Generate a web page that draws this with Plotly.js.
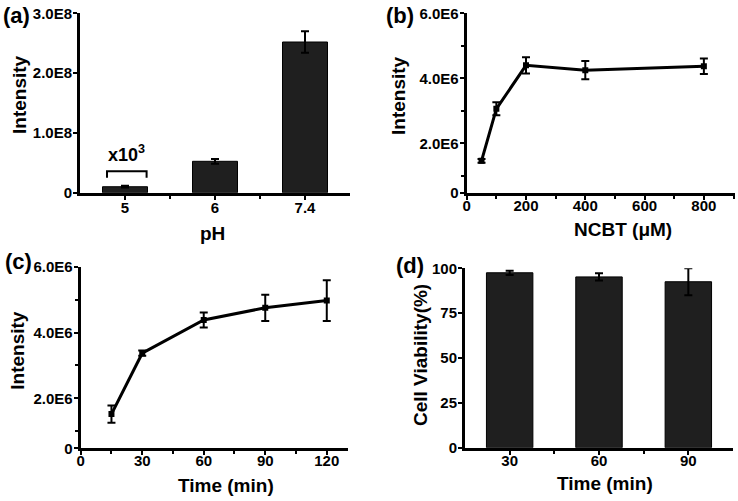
<!DOCTYPE html>
<html>
<head>
<meta charset="utf-8">
<script src="https://cdn.plot.ly/plotly-3.0.1.min.js"></script>
<style>html,body{margin:0;padding:0;background:#fff;}#chart{width:738px;height:501px;}</style>
</head>
<body>
<div id="chart"></div>
<script>
// ---- data ----
const phLabels = ['5', '6', '7.4'];
const phIntensity = [1.0e7, 5.25e7, 2.52e8];
const phError = [0.15e7, 0.4e7, 1.8e7];

const ncbtConc = [50, 100, 200, 400, 800];
const ncbtIntensity = [1.46e6, 3.06e6, 4.40e6, 4.25e6, 4.37e6];
const ncbtError = [0.06e6, 0.2e6, 0.25e6, 0.28e6, 0.24e6];

const timeMin = [15, 30, 60, 90, 120];
const timeIntensity = [1.52e6, 3.37e6, 4.38e6, 4.75e6, 4.97e6];
const timeError = [0.26e6, 0.08e6, 0.23e6, 0.4e6, 0.62e6];

const viabLabels = ['30', '60', '90'];
const viability = [97.5, 95.2, 92.5];
const viabError = [1.2, 2.0, 7.5];

const phTickVals = [0, 1e8, 2e8, 3e8];
const phTickText = ['0', '1.0E8', '2.0E8', '3.0E8'];
const intTickVals = [2e6, 4e6, 6e6];
const intTickText = ['2.0E6', '4.0E6', '6.0E6'];
const ncbtTickVals = [0, 200, 400, 600, 800];
const timeTickVals = [0, 30, 60, 90, 120];
const viabTickVals = [0, 25, 50, 75, 100];

// ---- helpers ----
const W = 738, H = 501;
const px = v => v / W;
const py = v => 1 - v / H;
const FONT = 'Liberation Sans, Arial, Helvetica, sans-serif';
const idx = a => a.map((_, i) => i);
const bold = a => a.map(t => '<b>' + t + '</b>');

const errStyle = arr => ({type: 'data', array: arr, visible: true, color: '#000', thickness: 2, width: 4});

const traces = [
  {type: 'bar', x: idx(phLabels), y: phIntensity, error_y: errStyle(phError), width: 0.5,
   marker: {color: '#1f1f1f', line: {color: '#000', width: 1}}, xaxis: 'x', yaxis: 'y'},
  {type: 'scatter', mode: 'lines+markers', x: ncbtConc, y: ncbtIntensity, error_y: errStyle(ncbtError),
   line: {color: '#000', width: 3}, marker: {symbol: 'square', size: 6, color: '#000'}, xaxis: 'x2', yaxis: 'y2'},
  {type: 'scatter', mode: 'lines+markers', x: timeMin, y: timeIntensity, error_y: errStyle(timeError),
   line: {color: '#000', width: 3}, marker: {symbol: 'square', size: 6, color: '#000'}, xaxis: 'x3', yaxis: 'y3'},
  {type: 'bar', x: idx(viabLabels), y: viability, error_y: errStyle(viabError), width: 0.52,
   marker: {color: '#1f1f1f', line: {color: '#000', width: 1}}, xaxis: 'x4', yaxis: 'y4'}
];

const tickFont = {family: FONT, size: 15, color: '#000'};
const common = {
  showline: true, linecolor: '#000', linewidth: 3, mirror: false,
  ticks: 'outside', ticklen: 4, tickwidth: 2, tickcolor: '#000',
  showgrid: false, zeroline: false, fixedrange: true,
  tickfont: tickFont, tickmode: 'array'
};
const commonX = Object.assign({}, common, {ticklabelstandoff: -7});
const commonY = Object.assign({}, common, {ticklabelstandoff: -2});
const minorStyle = {ticks: 'outside', ticklen: 3, tickwidth: 2, tickcolor: '#000'};

const yBase = 0.48e6; // where the drawn x-axis crosses the intensity axes in (b) and (c)

const layout = {
  width: W, height: H, margin: {l: 0, r: 0, t: 0, b: 0},
  paper_bgcolor: '#fff', plot_bgcolor: '#fff', showlegend: false,
  font: {family: FONT, color: '#000', size: 15},
  bargap: 0,
  xaxis: Object.assign({}, commonX, {domain: [px(80), px(350)], anchor: 'y', range: [-0.5, 2.5],
    tickvals: idx(phLabels), ticktext: bold(phLabels), ticklabelstandoff: -5,
    minor: Object.assign({}, minorStyle, {tickmode: 'array', tickvals: [0.5, 1.5]})}),
  yaxis: Object.assign({}, commonY, {domain: [py(192.7), py(13.3)], anchor: 'x', range: [0, 3e8],
    tickvals: phTickVals, ticktext: bold(phTickText)}),
  xaxis2: Object.assign({}, commonX, {domain: [px(466.7), px(735)], anchor: 'y2', range: [0, 905],
    tickvals: ncbtTickVals, ticktext: bold(ncbtTickVals),
    minor: Object.assign({}, minorStyle, {tickmode: 'linear', tick0: 0, dtick: 100})}),
  yaxis2: Object.assign({}, commonY, {domain: [py(192.7), py(13.3)], anchor: 'x2', range: [yBase, 6e6],
    tickvals: [yBase].concat(intTickVals), ticktext: bold(['0'].concat(intTickText)),
    minor: Object.assign({}, minorStyle, {tickmode: 'array', tickvals: [1e6, 3e6, 5e6]})}),
  xaxis3: Object.assign({}, commonX, {domain: [px(80.7), px(348.3)], anchor: 'y3', range: [0, 130.5],
    tickvals: timeTickVals, ticktext: bold(timeTickVals),
    minor: Object.assign({}, minorStyle, {tickmode: 'linear', tick0: 0, dtick: 15})}),
  yaxis3: Object.assign({}, commonY, {domain: [py(448.3), py(266.7)], anchor: 'x3', range: [yBase, 6e6],
    tickvals: [yBase].concat(intTickVals), ticktext: bold(['0'].concat(intTickText)),
    minor: Object.assign({}, minorStyle, {tickmode: 'array', tickvals: [1e6, 3e6, 5e6]})}),
  xaxis4: Object.assign({}, commonX, {domain: [px(465), px(733)], anchor: 'y4', range: [-0.5, 2.5],
    tickvals: idx(viabLabels), ticktext: bold(viabLabels),
    minor: Object.assign({}, minorStyle, {tickmode: 'array', tickvals: [0.5, 1.5]})}),
  yaxis4: Object.assign({}, commonY, {domain: [py(447.7), py(268.3)], anchor: 'x4', range: [0, 100],
    tickvals: viabTickVals, ticktext: bold(viabTickVals)}),
  shapes: [
    {type: 'path', xref: 'x', yref: 'y', path: 'M -0.2,25000000 L -0.2,36000000 L 0.24,36000000 L 0.24,25000000',
     line: {color: '#000', width: 2}}
  ],
  annotations: []
};

function ann(text, x, y, size, angle) {
  layout.annotations.push({text: '<b>' + text + '</b>', xref: 'paper', yref: 'paper', x: px(x), y: py(y),
    xanchor: 'center', yanchor: 'middle', showarrow: false, textangle: angle || 0,
    font: {family: FONT, size: size, color: '#000'}});
}
// panel labels
ann('(a)', 16, 15, 22); ann('(b)', 400, 15, 22); ann('(c)', 18, 261, 22); ann('(d)', 410, 265, 22);
// axis titles
ann('pH', 212.5, 233, 19);
ann('NCBT (μM)', 622.7, 230, 19);
ann('Time (min)', 226, 485, 19);
ann('Time (min)', 605, 483, 19);
ann('Intensity', 19, 95, 19, -90);
ann('Intensity', 399, 96, 19, -90);
ann('Intensity', 16.7, 350, 19, -90);
ann('Cell Viability(%)', 420, 355, 19, -90);
// x10^3 note above the pH 5 bar
layout.annotations.push({text: '<b>x10<sup>3</sup></b>', xref: 'x', yref: 'y', x: 0.02, y: 0.65e8,
  xanchor: 'center', yanchor: 'middle', showarrow: false,
  font: {family: FONT, size: 18, color: '#000'}});

Plotly.newPlot('chart', traces, layout, {displayModeBar: false, staticPlot: true});
</script>
</body>
</html>
